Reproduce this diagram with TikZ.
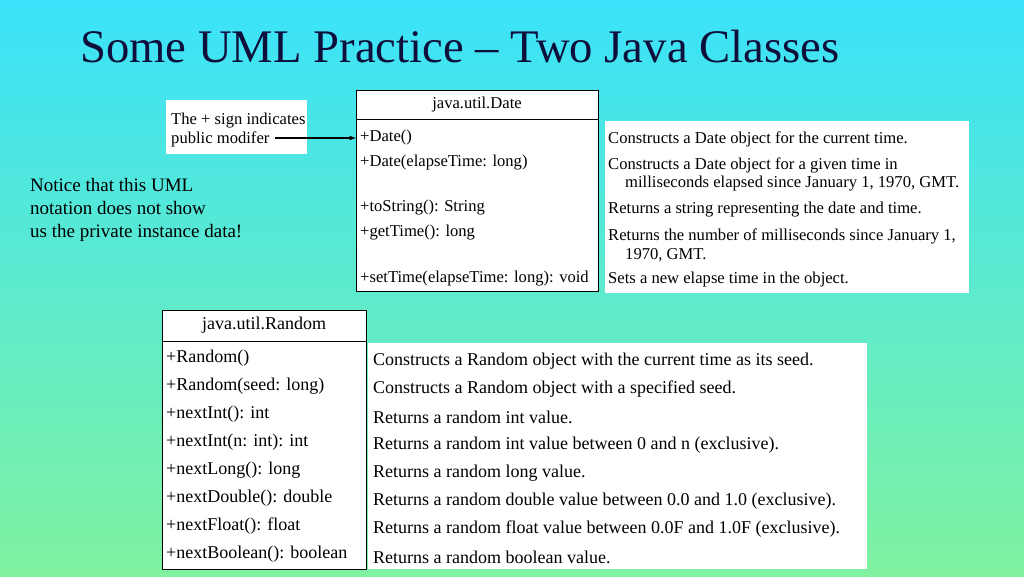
\documentclass[tikz,border=0pt]{standalone}
\usepackage{fontspec}
\setmainfont{Liberation Serif}
\begin{document}
\begin{tikzpicture}[x=1pt,y=-1pt,
 txt/.style={anchor=west,inner sep=0pt,font=\fontsize{16.6}{19}\selectfont},
 txtb/.style={anchor=west,inner sep=0pt,font=\fontsize{18}{20}\selectfont},
 wbox/.style={fill=white,draw=none},
 cls/.style={fill=white,draw=black,line width=0.8pt}]
\shade[top color={rgb,255:red,58;green,226;blue,250},bottom color={rgb,255:red,128;green,242;blue,160}] (0,0) rectangle (1024,576);
\useasboundingbox (0,0) rectangle (1024,576);
\node[anchor=west,inner sep=0pt,font=\fontsize{46.7}{50}\selectfont,text={rgb,255:red,15;green,15;blue,60}] (title) at (80,47) {Some UML Practice -- Two Java Classes};
% Date class
\draw[cls] (356,90) rectangle (598,291);
\draw[line width=0.8pt] (356,119) -- (598,119);
\node[font=\fontsize{16.6}{19}\selectfont] (dname) at (477,105) {java.util.Date};
\foreach \y/\t in {138/{+Date()},163/{+Date(elapseTime: long)},208/{+toString(): String},233/{+getTime(): long},279/{+setTime(elapseTime: long): void}}
 \node[txt] at (360,\y) {\t};
% note
\fill[wbox] (166,100) rectangle (307,154);
\node[txt,align=left] (note) at (171,130) {The + sign indicates\\public modifer};
\coordinate (arrs) at (275,138);
\coordinate (arre) at (356,138);
\draw[-latex,line width=1.2pt] (arrs) -- (arre);
% Date descriptions
\fill[wbox] (605,121) rectangle (969,293);
\foreach \x/\y/\t in {608/139/{Constructs a Date object for the current time.},608/165/{Constructs a Date object for a given time in},625/184/{milliseconds elapsed since January 1, 1970, GMT.},608/210/{Returns a string representing the date and time.},608/236/{Returns the number of milliseconds since January 1,},625/255/{1970, GMT.},608/280/{Sets a new elapse time in the object.}}
 \node[txt] at (\x,\y) {\t};
% notice
\node[anchor=west,inner sep=0pt,font=\fontsize{19}{23}\selectfont,align=left] (notice) at (30,210) {Notice that this UML\\notation does not show\\us the private instance data!};
% Random class
\draw[cls] (162,310) rectangle (366,569);
\draw[line width=0.8pt] (162,341) -- (366,341);
\node[font=\fontsize{18}{20}\selectfont] (rname) at (264,325) {java.util.Random};
\foreach \y/\t in {358/{+Random()},386/{+Random(seed: long)},414/{+nextInt(): int},442/{+nextInt(n: int): int},470/{+nextLong(): long},498/{+nextDouble(): double},526/{+nextFloat(): float},554/{+nextBoolean(): boolean}}
 \node[txtb] at (166,\y) {\t};
\fill[wbox] (368,343) rectangle (867,569);
\foreach \y/\t in {361/{Constructs a Random object with the current time as its seed.},389/{Constructs a Random object with a specified seed.},417/{Returns a random int value.},445/{Returns a random int value between 0 and n (exclusive).},473/{Returns a random long value.},501/{Returns a random double value between 0.0 and 1.0 (exclusive).},529/{Returns a random float value between 0.0F and 1.0F (exclusive).},557/{Returns a random boolean value.}}
 \node[txtb] at (373,\y) {\t};
\end{tikzpicture}
\end{document}
